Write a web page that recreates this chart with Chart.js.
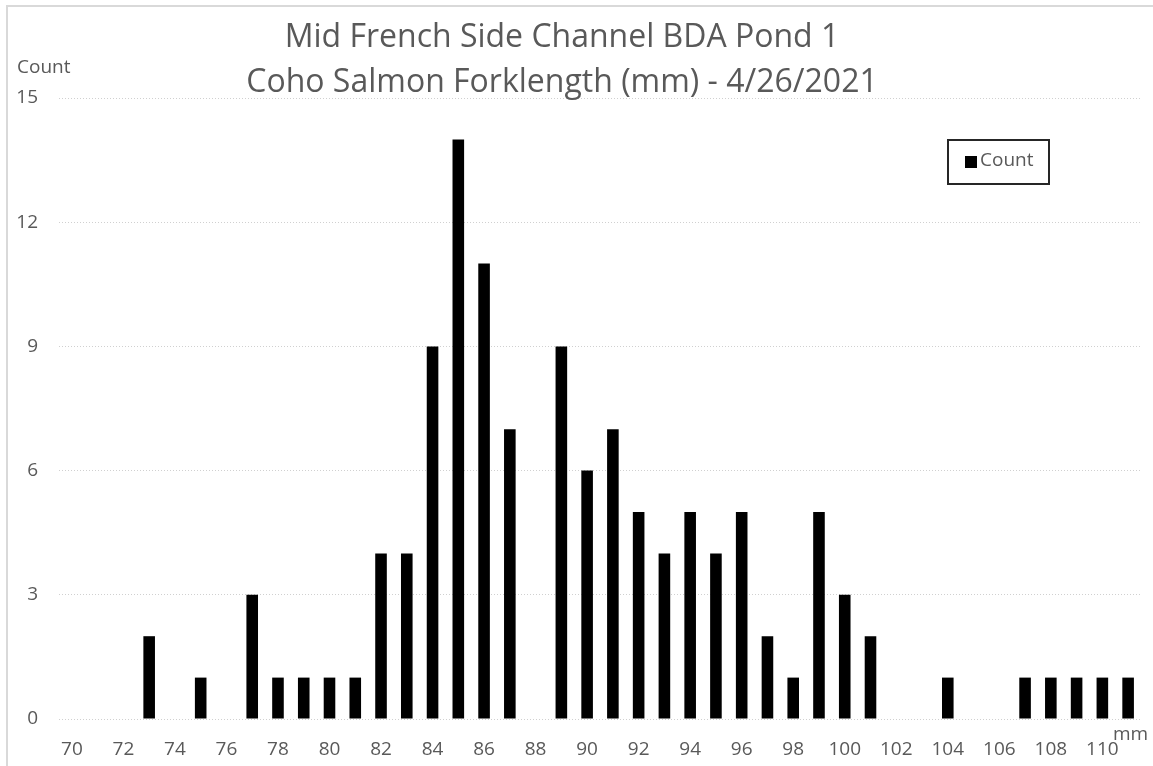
<!DOCTYPE html>
<html>
<head>
<meta charset="utf-8">
<script src="https://cdn.jsdelivr.net/npm/chart.js@4/dist/chart.umd.min.js"></script>
<style>
  html, body { margin: 0; padding: 0; background: #fff; }
  #wrap { position: relative; width: 1153px; height: 766px; }
  #frame { position: absolute; left: 6px; top: 5px; width: 1147px; height: 761px; border-left: 2px solid #d9d9d9; border-top: 2px solid #d9d9d9; box-sizing: border-box; pointer-events: none; }
  canvas { position: absolute; left: 0; top: 0; }
</style>
</head>
<body>
<div id="wrap">
  <canvas id="c" width="1153" height="766"></canvas>
  <div id="frame"></div>
</div>
<script>
const titleLines = ["Mid French Side Channel BDA Pond 1", "Coho Salmon Forklength (mm) - 4/26/2021"];
const seriesName = "Count";
const yAxisLabel = "Count";
const xAxisLabel = "mm";
const lengths = [70,71,72,73,74,75,76,77,78,79,80,81,82,83,84,85,86,87,88,89,90,91,92,93,94,95,96,97,98,99,100,101,102,103,104,105,106,107,108,109,110,111];
const counts  = [0, 0, 0, 2, 0, 1, 0, 3, 1, 1, 1, 1, 4, 4, 9, 14,11,7, 0, 9, 6, 7, 5, 4, 5, 4, 5, 2, 1, 5, 3, 2, 0, 0, 1, 0, 0, 1, 1, 1, 1, 1];
const yTicks = [0, 3, 6, 9, 12, 15];

const FONT = "'Open Sans', 'Liberation Sans', sans-serif";
const GRAY = "#595959";

const overlay = {
  id: 'overlay',
  afterDraw(chart) {
    const ctx = chart.ctx;
    ctx.save();
    ctx.fillStyle = GRAY;
    ctx.textAlign = 'center';
    ctx.textBaseline = 'alphabetic';
    ctx.font = "32px " + FONT;
    ctx.fillText(titleLines[0], 562, 47);
    ctx.fillText(titleLines[1], 562, 92);
    ctx.textAlign = 'left';
    ctx.font = "19px " + FONT;
    ctx.fillText(yAxisLabel, 17, 73);
    ctx.fillText(xAxisLabel, 1113, 740);
    // legend
    ctx.strokeStyle = "#262626";
    ctx.lineWidth = 2;
    ctx.strokeRect(948, 140, 101, 44);
    ctx.fillStyle = "#000";
    ctx.fillRect(965, 156, 12, 12);
    ctx.fillStyle = GRAY;
    ctx.font = "19px " + FONT;
    ctx.textBaseline = 'middle';
    ctx.fillText(seriesName, 980, 161);
    ctx.restore();
  }
};

new Chart(document.getElementById('c'), {
  type: 'bar',
  data: {
    labels: lengths.map(String),
    datasets: [{
      label: seriesName,
      data: counts,
      backgroundColor: '#000',
      borderWidth: 0,
      barPercentage: 0.45,
      categoryPercentage: 1.0
    }]
  },
  options: {
    responsive: false,
    animation: false,
    layout: { padding: { left: 0, right: 12, top: 98, bottom: 0 } },
    plugins: { legend: { display: false }, title: { display: false }, tooltip: { enabled: false } },
    scales: {
      x: {
        grid: { display: false, drawTicks: false },
        border: { display: false },
        ticks: {
          autoSkip: false, maxRotation: 0, minRotation: 0, padding: 19,
          color: GRAY, font: { family: FONT, size: 19 },
          callback: function(v, i) { const l = lengths[i]; return l % 2 === 0 ? String(l) : ''; }
        },
        afterFit(s) { s.height = 47; }
      },
      y: {
        min: 0, max: 15,
        afterBuildTicks(s) { s.ticks = yTicks.map(v => ({ value: v })); },
        grid: { color: '#d0d0d0', drawTicks: false, lineWidth: 1 },
        border: { display: false, dash: [1, 2] },
        ticks: { padding: 21, color: GRAY, font: { family: FONT, size: 19 } },
        afterFit(s) { s.width = 59; }
      }
    }
  },
  plugins: [overlay]
});
</script>
</body>
</html>
